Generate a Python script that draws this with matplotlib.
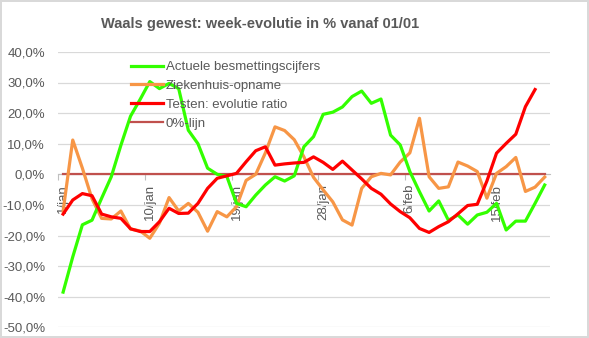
import matplotlib
matplotlib.use("Agg")
import matplotlib.pyplot as plt
import numpy as np
import pandas as pd
from matplotlib.ticker import FixedLocator, FuncFormatter

# Week-on-week evolution (%) per day, Walloon region, from 1 Jan
days = pd.date_range("2021-01-01", "2021-02-20", freq="D")
month_nl = {1: "jan", 2: "feb"}
categories = [f"{d.day}/{month_nl[d.month]}" for d in days]

besmettingen = [-38.5, -27.0, -16.5, -15.0, -7.8, -0.8, 9.5, 19.0, 24.5, 30.3,
                28.0, 29.7, 28.0, 14.4, 10.0, 2.0, 0.0, -0.7, -9.5, -10.6,
                -6.8, -3.5, -0.8, -2.2, -0.5, 9.0, 12.3, 19.6, 20.3, 22.0,
                25.4, 27.2, 23.2, 24.6, 12.8, 9.6, 0.9, -5.7, -12.0, -8.7,
                -15.0, -13.3, -16.3, -13.3, -12.4, -9.5, -18.2, -15.3, -15.3, -9.5,
                -3.5]
ziekenhuis = [-12.0, 11.2, 2.0, -8.0, -14.4, -14.6, -12.0, -17.9, -18.5, -20.9,
              -16.0, -7.6, -12.0, -9.5, -12.4, -18.6, -12.2, -13.9, -10.6, -2.0,
              0.0, 7.0, 15.5, 14.3, 11.3, 5.7, -1.0, -5.1, -9.0, -14.9,
              -16.6, -4.6, -0.8, 0.3, -0.2, 4.0, 7.0, 18.3, -0.8, -4.6,
              -4.1, 4.0, 2.7, 0.9, -7.8, 0.3, 2.5, 5.5, -5.6, -4.2,
              -0.9]
testen_ratio = [-13.0, -8.4, -6.3, -7.0, -13.0, -13.9, -14.4, -17.8, -18.7, -18.7,
                -15.5, -11.1, -12.8, -12.7, -9.5, -4.6, -1.3, -0.5, 0.3, 4.1,
                7.7, 9.0, 3.0, 3.4, 3.7, 3.9, 5.7, 3.9, 1.6, 4.3,
                1.4, -1.5, -4.6, -6.5, -9.7, -12.2, -14.2, -17.7, -19.0, -17.1,
                -15.5, -12.9, -10.2, -9.8, -2.2, 6.9, 10.1, 13.1, 22.1, 27.7]
nul_lijn = [0.0] * len(categories)

tick_labels = ["1/jan", "10/jan", "19/jan", "28/jan", "6/feb", "15/feb"]

TXT = "#595959"
GRID = "#d9d9d9"
FONT = "Liberation Sans"
plt.rcParams["font.family"] = [FONT, "DejaVu Sans"]

W, H = 589, 338
fig = plt.figure(figsize=(W / 100, H / 100), dpi=100)
fig.patch.set_facecolor("white")
fig.patch.set_edgecolor(GRID)
fig.patch.set_linewidth(1.5)

left, right = 58.3 / W, 549.5 / W
top, bottom = 1 - 51.9 / H, 1 - 327.3 / H
ax = fig.add_axes([left, bottom, right - left, top - bottom])

x_all = np.arange(len(categories))
ax.plot(np.arange(len(besmettingen)), besmettingen, color="#33ff00", lw=2.3,
        label="Actuele besmettingscijfers", zorder=4, solid_joinstyle="round")
ax.plot(np.arange(len(ziekenhuis)), ziekenhuis, color="#f79646", lw=2.3,
        label="Ziekenhuis-opname", zorder=3, solid_joinstyle="round")
ax.plot(np.arange(len(testen_ratio)), testen_ratio, color="#ff0000", lw=2.3,
        label="Testen: evolutie ratio", zorder=5, solid_joinstyle="round")
ax.plot(x_all, nul_lijn, color="#c0504d", lw=1.6, label="0%-lijn", zorder=2)

ax.set_xlim(-0.5, len(categories) - 0.5)
ax.set_ylim(-50, 40)
ax.set_yticks(np.arange(-50, 41, 10))
ax.yaxis.set_major_formatter(FuncFormatter(lambda v, p: f"{v:.1f}%".replace(".", ",")))
ax.grid(axis="y", color=GRID, lw=0.9, zorder=0)
ax.set_axisbelow(True)

for s in ["left", "right", "top"]:
    ax.spines[s].set_visible(False)
ax.spines["bottom"].set_position(("data", 0))
ax.spines["bottom"].set_color("#bfbfbf")
ax.spines["bottom"].set_zorder(1)

label_pos = [categories.index(t) for t in tick_labels]
ax.set_xticks(label_pos)
ax.set_xticklabels(tick_labels, rotation=90, va="top", ha="center")
ax.xaxis.set_minor_locator(FixedLocator([p - 0.5 for p in label_pos]))
ax.tick_params(axis="x", which="major", length=0, pad=7, labelsize=9.5, labelcolor=TXT)
ax.tick_params(axis="x", which="minor", length=4, width=0.8, color="#bfbfbf", direction="out")
ax.tick_params(axis="y", length=0, pad=9.5, labelsize=9.5, labelcolor=TXT)

leg = ax.legend(loc="upper left", bbox_to_anchor=(131 / W, 1 - 61 / H),
                bbox_transform=fig.transFigure, frameon=False, fontsize=9.5,
                handlelength=2.4, handletextpad=0.25, labelspacing=0.5,
                borderaxespad=0, borderpad=0)
for t in leg.get_texts():
    t.set_color(TXT)

fig.text(260 / W, 1 - 24 / H, "Waals gewest: week-evolutie in % vanaf 01/01",
         ha="center", va="center", fontsize=10.5, fontweight="bold", color=TXT)

fig.savefig("out.png", dpi=100, facecolor=fig.get_facecolor(),
            edgecolor=fig.get_edgecolor())
